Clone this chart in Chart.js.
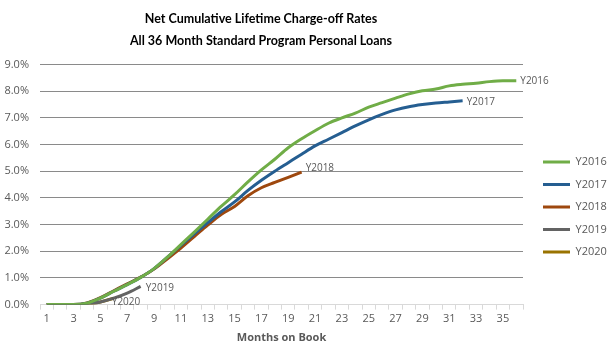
<!DOCTYPE html>
<html>
<head>
<meta charset="utf-8">
<script src="https://cdn.jsdelivr.net/npm/chart.js@4.4.1/dist/chart.umd.min.js"></script>
<style>
  html, body { margin: 0; padding: 0; background: #fff; }
  #wrap { width: 616px; height: 362px; }
</style>
</head>
<body>
<div id="wrap"><canvas id="graph-canvas" width="616" height="362"></canvas></div>
<script>
// months on book 1..36
const months = [];
for (let m = 1; m <= 36; m++) months.push(String(m));

// net cumulative charge-off rate, in percent
const y2016 = [0, 0, 0, 0.05, 0.24, 0.5, 0.75, 1.02, 1.35, 1.78, 2.25, 2.72, 3.2, 3.68, 4.12, 4.6, 5.05, 5.45,
  5.88, 6.22, 6.52, 6.8, 7.0, 7.18, 7.4, 7.57, 7.74, 7.9, 8.02, 8.08, 8.2, 8.26, 8.3, 8.36, 8.39, 8.39];
const y2017 = [0, 0, 0, 0.05, 0.24, 0.5, 0.75, 1.02, 1.35, 1.78, 2.22, 2.65, 3.07, 3.48, 3.85, 4.28, 4.66, 5.0,
  5.32, 5.64, 5.95, 6.2, 6.45, 6.7, 6.93, 7.13, 7.3, 7.42, 7.5, 7.56, 7.6, 7.64];
const y2018 = [0, 0, 0, 0.06, 0.26, 0.52, 0.78, 1.03, 1.33, 1.72, 2.12, 2.55, 2.98, 3.38, 3.68, 4.08, 4.38, 4.58,
  4.77, 4.97];
const y2019 = [0, 0, 0, 0.02, 0.1, 0.24, 0.43, 0.68];
const y2020 = [0, 0, 0, 0.02, 0.1, 0.24];

const seriesNames = ['Y2016', 'Y2017', 'Y2018', 'Y2019', 'Y2020'];
const seriesColors = ['#70ad47', '#255e91', '#9e480e', '#636363', '#997300'];
// where the end-of-line label sits relative to the last point (dx, dy)
const labelOffsets = [[4, 0], [4, 1], [4, -4], [5, 2], [-2, 4]];

const textGrey = '#595959';
const fontFam = '"Open Sans", "Liberation Sans", sans-serif';

const endLabels = {
  id: 'endLabels',
  afterDatasetsDraw(chart) {
    const ctx = chart.ctx;
    ctx.save();
    ctx.font = '10px ' + fontFam;
    ctx.fillStyle = textGrey;
    ctx.textAlign = 'left';
    ctx.textBaseline = 'middle';
    chart.data.datasets.forEach((ds, i) => {
      const meta = chart.getDatasetMeta(i);
      const pt = meta.data[meta.data.length - 1];
      if (!pt) return;
      const off = labelOffsets[i];
      ctx.fillText(ds.label, pt.x + off[0], pt.y + off[1]);
    });
    ctx.restore();
  }
};

// title centred a bit left of the middle, legend pinned like the original
const placeBoxes = {
  id: 'placeBoxes',
  beforeLayout(chart) {
    const lg = chart.legend;
    if (lg && !lg._fixed) {
      lg._fixed = true;
      const origFit = lg.fit;
      lg.fit = function () { origFit.call(this); this.width = 93; };
    }
  },
  afterLayout(chart) {
    if (chart.titleBlock) {
      chart.titleBlock.left = 0;
      chart.titleBlock.right = 522;
    }
    if (chart.legend) {
      chart.legend.left = 531.5;
      chart.legend.top = 145;
    }
  }
};

const allSeries = [y2016, y2017, y2018, y2019, y2020];

const data = {
  labels: months,
  datasets: seriesNames.map((name, i) => ({
    label: name,
    data: allSeries[i],
    borderColor: seriesColors[i],
    backgroundColor: seriesColors[i],
    borderWidth: 3,
    pointRadius: 0,
    cubicInterpolationMode: 'monotone',
    fill: false
  }))
};

const config = {
  type: 'line',
  data: data,
  plugins: [endLabels, placeBoxes],
  options: {
    responsive: false,
    animation: false,
    layout: { padding: { left: 4, right: 0, top: 8, bottom: 18 } },
    plugins: {
      title: {
        display: true,
        text: ['Net Cumulative Lifetime Charge-off Rates', 'All 36 Month Standard Program Personal Loans'],
        color: '#000',
        font: { family: 'Lato, "Open Sans", sans-serif', size: 12.5, weight: 'bold', lineHeight: 1.77 },
        padding: { top: 0, bottom: 12.3 }
      },
      legend: {
        position: 'right',
        align: 'start',
        labels: {
          usePointStyle: true,
          pointStyle: 'line',
          pointStyleWidth: 27,
          color: textGrey,
          font: { family: fontFam, size: 11 },
          padding: 11.5
        }
      },
      tooltip: { enabled: false }
    },
    scales: {
      x: {
        offset: true,
        grid: {
          offset: true,
          drawOnChartArea: false,
          color: '#d9d9d9',
          tickLength: 5
        },
        border: { color: '#d9d9d9' },
        ticks: {
          autoSkip: false,
          maxRotation: 0,
          color: textGrey,
          font: { family: fontFam, size: 11 },
          padding: 3,
          callback: function (val, idx) { return idx % 2 === 0 ? this.getLabelForValue(val) : ''; }
        },
        title: {
          display: true,
          text: 'Months on Book',
          color: textGrey,
          font: { family: fontFam, size: 11, weight: 'bold' },
          padding: { top: 2, bottom: 0 }
        }
      },
      y: {
        min: 0,
        max: 9,
        afterFit(scale) { scale.width = 36; },
        grid: { color: '#8a8a8a', drawTicks: false },
        border: { display: false },
        ticks: {
          stepSize: 1,
          color: textGrey,
          font: { family: fontFam, size: 11 },
          padding: 11,
          callback: v => v.toFixed(1) + '%'
        }
      }
    }
  }
};

new Chart(document.getElementById('graph-canvas'), config);
</script>
</body>
</html>
